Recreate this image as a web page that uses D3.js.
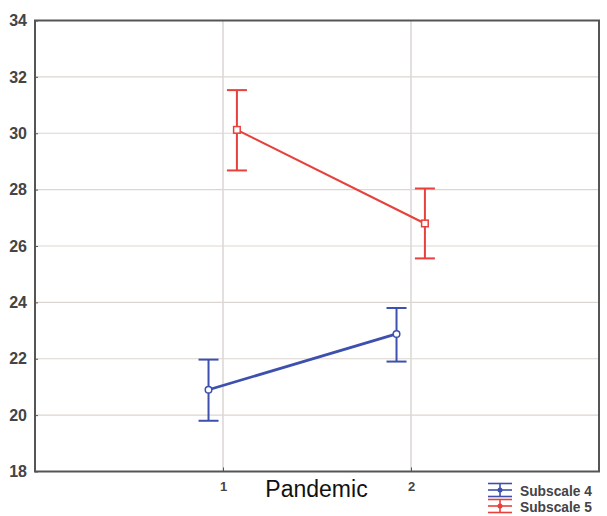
<!DOCTYPE html>
<html>
<head>
<meta charset="utf-8">
<script src="https://cdn.jsdelivr.net/npm/d3@7"></script>
<style>
  body { margin: 0; background: #fff; }
  svg { display: block; font-family: "Liberation Sans", Arial, sans-serif; }
</style>
</head>
<body>
<script>
const levels = [1, 2];
const yTicks = [18, 20, 22, 24, 26, 28, 30, 32, 34];
const seriesNames = ["Subscale 4", "Subscale 5"];
const sub4Mean = [20.9, 22.88];
const sub4Low = [19.8, 21.9];
const sub4High = [21.97, 23.8];
const sub5Mean = [30.12, 26.8];
const sub5Low = [28.68, 25.56];
const sub5High = [31.53, 28.04];

const width = 607, height = 516;
const colors = ["#3d50ad", "#e8403b"];
const shift = [-0.077, 0.074];

const series = [
  { name: seriesNames[0], mean: sub4Mean, low: sub4Low, high: sub4High },
  { name: seriesNames[1], mean: sub5Mean, low: sub5Low, high: sub5High }
];

const svg = d3.select("body").append("svg")
  .attr("width", width)
  .attr("height", height);

const x = d3.scaleLinear().domain([0, 3]).range([35, 599]);
const y = d3.scaleLinear().domain([18, 34]).range([471.5, 20.5]);

// grid
svg.append("g")
  .selectAll("line.h")
  .data(yTicks.slice(1, -1))
  .enter().append("line")
    .attr("x1", x(0)).attr("x2", x(3))
    .attr("y1", d => y(d)).attr("y2", d => y(d))
    .attr("stroke", "#ddd5d0").attr("stroke-width", 1.2);

svg.append("g")
  .selectAll("line.v")
  .data(levels)
  .enter().append("line")
    .attr("x1", d => x(d)).attr("x2", d => x(d))
    .attr("y1", y(34)).attr("y2", y(18))
    .attr("stroke", "#ddd8d6").attr("stroke-width", 1.6);

// frame
svg.append("rect")
  .attr("x", x(0)).attr("y", y(34))
  .attr("width", x(3) - x(0)).attr("height", y(18) - y(34))
  .attr("fill", "none")
  .attr("stroke", "#555")
  .attr("stroke-width", 2);

// y axis
const yAxis = d3.axisLeft(y)
  .tickValues(yTicks)
  .tickSize(-3)
  .tickPadding(8)
  .tickSizeOuter(0);

svg.append("g")
  .attr("transform", `translate(${x(0)},0)`)
  .call(yAxis)
  .call(g => g.select(".domain").remove())
  .call(g => g.selectAll("line").attr("stroke", "#555"))
  .call(g => g.selectAll("text")
    .attr("fill", "#444")
    .style("font-size", "16px")
    .style("font-weight", "bold"));

// x axis
const xAxis = d3.axisBottom(x)
  .tickValues(levels)
  .tickSize(-4)
  .tickPadding(10)
  .tickFormat(d3.format("d"));

svg.append("g")
  .attr("transform", `translate(0,${y(18)})`)
  .call(xAxis)
  .call(g => g.select(".domain").remove())
  .call(g => g.selectAll("line").attr("stroke", "#555"))
  .call(g => g.selectAll("text")
    .attr("fill", "#444")
    .style("font-size", "13px")
    .style("font-weight", "bold"));

svg.append("text")
  .attr("x", x(1.5) - 0.5)
  .attr("y", 497)
  .attr("text-anchor", "middle")
  .attr("fill", "#111")
  .style("font-size", "23px")
  .text("Pandemic");

// series
const capHalf = 10;
series.forEach((s, si) => {
  const g = svg.append("g");
  const pts = levels.map((lv, i) => ({
    x: x(lv + shift[si]), m: y(s.mean[i]), lo: y(s.low[i]), hi: y(s.high[i])
  }));

  g.append("path")
    .datum(pts)
    .attr("d", d3.line().x(d => d.x).y(d => d.m))
    .attr("fill", "none")
    .attr("stroke", colors[si])
    .attr("stroke-width", si === 0 ? 2.8 : 2.2);

  const eb = g.selectAll("g.eb").data(pts).enter().append("g")
    .attr("stroke", colors[si]).attr("stroke-width", 2).attr("fill", "none");
  eb.append("line")
    .attr("x1", d => d.x).attr("x2", d => d.x)
    .attr("y1", d => d.hi).attr("y2", d => d.lo);
  eb.append("line")
    .attr("x1", d => d.x - capHalf).attr("x2", d => d.x + capHalf)
    .attr("y1", d => d.hi).attr("y2", d => d.hi);
  eb.append("line")
    .attr("x1", d => d.x - capHalf).attr("x2", d => d.x + capHalf)
    .attr("y1", d => d.lo).attr("y2", d => d.lo);

  if (si === 0) {
    eb.append("circle")
      .attr("cx", d => d.x).attr("cy", d => d.m).attr("r", 3.3)
      .attr("fill", "#fff").attr("stroke-width", 1.5);
  } else {
    eb.append("rect")
      .attr("x", d => d.x - 3.3).attr("y", d => d.m - 3.3)
      .attr("width", 6.6).attr("height", 6.6)
      .attr("fill", "#fff").attr("stroke-width", 1.5);
  }
});

// legend
const legend = svg.append("g").attr("transform", "translate(488,490)");
series.forEach((s, si) => {
  const row = legend.append("g").attr("transform", `translate(0,${si * 16})`);
  const c = colors[si];
  [-6.5, 0, 6.5].forEach(dy => {
    row.append("line")
      .attr("x1", 0).attr("x2", 24)
      .attr("y1", dy).attr("y2", dy)
      .attr("stroke", c).attr("stroke-width", 1.6);
  });
  row.append("line")
    .attr("x1", 12).attr("x2", 12).attr("y1", -6.5).attr("y2", 6.5)
    .attr("stroke", c).attr("stroke-width", 1.6);
  row.append("circle")
    .attr("cx", 12).attr("cy", 0).attr("r", 2.5)
    .attr("fill", c);
  row.append("text")
    .attr("x", 32).attr("y", 6)
    .attr("fill", "#444")
    .attr("textLength", 72)
    .attr("lengthAdjust", "spacingAndGlyphs")
    .style("font-size", "15px")
    .style("font-weight", "bold")
    .text(s.name);
});
</script>
</body>
</html>
